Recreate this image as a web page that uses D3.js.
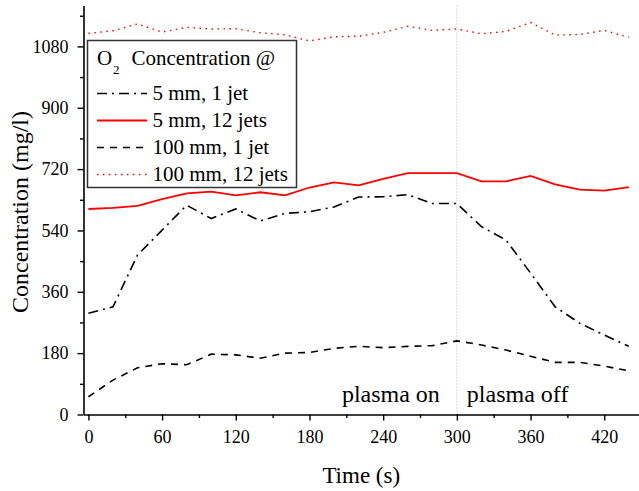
<!DOCTYPE html>
<html>
<head>
<meta charset="utf-8">
<script src="https://cdn.jsdelivr.net/npm/d3@7"></script>
<style>
  body { margin: 0; background: #fff; }
  svg text { font-family: "Liberation Serif", "Times New Roman", serif !important; }
</style>
</head>
<body>
<div class="chart"></div>
<script>
// tempi di campionamento (s)
const time = [0, 20, 40, 60, 80, 100, 120, 140, 160, 180, 200, 220, 240, 260, 280, 300, 320, 340, 360, 380, 400, 420, 440];

// serie (mg/l)
const mm5jet1 = [297, 316, 468, 541, 614, 575, 603, 568, 590, 595, 609, 638, 639, 645, 619, 619, 551, 512, 415, 316, 268, 233, 200];
const mm5jet12 = [603, 606, 612, 632, 649, 654, 643, 652, 643, 666, 681, 672, 691, 708, 708, 708, 684, 684, 700, 675, 660, 657, 667];
const mm100jet1 = [52, 101, 137, 149, 146, 177, 175, 165, 180, 182, 194, 200, 196, 200, 202, 216, 204, 189, 171, 153, 153, 142, 128];
const mm100jet12 = [1118, 1126, 1146, 1122, 1136, 1131, 1132, 1120, 1114, 1096, 1108, 1110, 1121, 1139, 1127, 1131, 1117, 1124, 1150, 1113, 1115, 1127, 1107];

const seriesNames = ["5 mm, 1 jet", "5 mm, 12 jets", "100 mm, 1 jet", "100 mm, 12 jets"];

const xTicks = [0, 60, 120, 180, 240, 300, 360, 420];
const yTicks = [0, 180, 360, 540, 720, 900, 1080];
const plasmaSwitch = 300;

const width = 639;
const height = 491;
const margin = { top: 5.5, right: 0, bottom: 76.5, left: 83.5 };
const serif = '"Liberation Serif", "Times New Roman", serif';

const svg = d3.select('.chart').append('svg')
    .attr('width', width)
    .attr('height', height);

const x = d3.scaleLinear()
    .domain([-4, 448.3])
    .range([margin.left, width - margin.right]);

const y = d3.scaleLinear()
    .domain([0, 1200])
    .range([height - margin.bottom, margin.top]);

// linea verticale tratteggiata plasma on/off
svg.append('line')
    .attr('x1', x(plasmaSwitch)).attr('x2', x(plasmaSwitch))
    .attr('y1', y(1200)).attr('y2', y(0))
    .attr('stroke', '#b0b0b0')
    .attr('stroke-width', 1)
    .attr('stroke-dasharray', '1,2');

// serie
const series = [
    { name: seriesNames[0], values: mm5jet1, color: '#000', width: 1.6, dash: '10,5,2,5' },
    { name: seriesNames[1], values: mm5jet12, color: '#ff0000', width: 1.8, dash: null },
    { name: seriesNames[2], values: mm100jet1, color: '#000', width: 1.6, dash: '7,6' },
    { name: seriesNames[3], values: mm100jet12, color: '#ff0000', width: 1.4, dash: '1.5,4.5' }
];

const line = d3.line()
    .x((d, i) => x(time[i]))
    .y(d => y(d));

svg.selectAll('path.serie')
    .data(series)
    .enter()
    .append('path')
    .attr('class', 'serie')
    .attr('d', d => line(d.values))
    .attr('fill', 'none')
    .attr('stroke', d => d.color)
    .attr('stroke-width', d => d.width)
    .attr('stroke-dasharray', d => d.dash);

// assi: tacche minori
svg.append('g')
    .attr('transform', `translate(0, ${y(0)})`)
    .call(d3.axisBottom(x).tickValues(d3.range(30, 450, 60)).tickSize(3.5).tickFormat(''))
    .call(g => g.select('.domain').remove())
    .selectAll('line').attr('stroke-width', 1.4);

svg.append('g')
    .attr('transform', `translate(${x.range()[0]}, 0)`)
    .call(d3.axisLeft(y).tickValues(d3.range(90, 1200, 180)).tickSize(3.5).tickFormat(''))
    .call(g => g.select('.domain').remove())
    .selectAll('line').attr('stroke-width', 1.4);

// assi principali
const xAxis = svg.append('g')
    .attr('transform', `translate(0, ${y(0)})`)
    .call(d3.axisBottom(x).tickValues(xTicks).tickFormat(d3.format('d')).tickSize(6).tickPadding(10).tickSizeOuter(0));

const yAxis = svg.append('g')
    .attr('transform', `translate(${x.range()[0]}, 0)`)
    .call(d3.axisLeft(y).tickValues(yTicks).tickFormat(d3.format('d')).tickSize(6).tickPadding(9).tickSizeOuter(0));

[xAxis, yAxis].forEach(g => {
    g.attr('font-family', serif).attr('font-size', 18);
    g.select('.domain').attr('stroke-width', 1.6);
    g.selectAll('line').attr('stroke-width', 1.4);
    g.selectAll('text')
        .style('font-family', serif)
        .style('font-size', '18px')
        .attr('fill', '#000');
});

// titoli assi
svg.append('text')
    .attr('x', (x.range()[0] + width) / 2)
    .attr('y', 483)
    .attr('text-anchor', 'middle')
    .attr('font-size', 23)
    .text('Time (s)');

svg.append('text')
    .attr('transform', `translate(28, ${(y(0) + y(1200)) / 2 + 2}) rotate(-90)`)
    .attr('text-anchor', 'middle')
    .attr('font-size', 24)
    .text('Concentration (mg/l)');

// annotazioni plasma
svg.append('text')
    .attr('x', x(plasmaSwitch) - 17)
    .attr('y', 402)
    .attr('text-anchor', 'end')
    .attr('font-size', 24)
    .text('plasma on');

svg.append('text')
    .attr('x', x(plasmaSwitch) + 10)
    .attr('y', 402)
    .attr('font-size', 24)
    .text('plasma off');

// legenda
const legend = svg.append('g');

legend.append('rect')
    .attr('x', 87.5).attr('y', 40.5)
    .attr('width', 209).attr('height', 147)
    .attr('fill', '#fff')
    .attr('stroke', '#333')
    .attr('stroke-width', 1.5);

legend.append('text').attr('x', 97).attr('y', 65).attr('font-size', 21).text('O');
legend.append('text').attr('x', 113).attr('y', 74).attr('font-size', 13).text('2');
legend.append('text').attr('x', 131.5).attr('y', 65).attr('font-size', 21).text('Concentration @');

const rows = legend.selectAll('g.row')
    .data(series)
    .enter()
    .append('g')
    .attr('class', 'row')
    .attr('transform', (d, i) => `translate(0, ${100 + i * 27})`);

rows.append('line')
    .attr('x1', 97).attr('x2', 147)
    .attr('y1', -6.5).attr('y2', -6.5)
    .attr('stroke', d => d.color)
    .attr('stroke-width', d => d.width)
    .attr('stroke-dasharray', d => d.dash);

rows.append('text')
    .attr('x', 152.5)
    .attr('y', 0)
    .attr('font-size', 21)
    .text(d => d.name);
</script>
</body>
</html>
